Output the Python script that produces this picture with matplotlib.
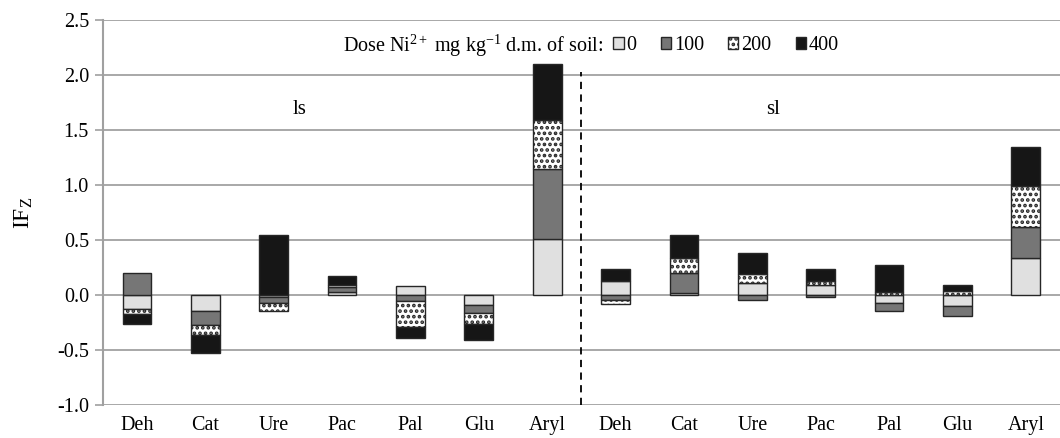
import numpy as np
import matplotlib
matplotlib.use('Agg')
import matplotlib.pyplot as plt
from matplotlib.patches import Patch

plt.rcParams['font.family'] = ['Liberation Serif', 'DejaVu Serif']
plt.rcParams['mathtext.fontset'] = 'custom'
plt.rcParams['mathtext.rm'] = 'Liberation Serif'
plt.rcParams['mathtext.it'] = 'Liberation Serif:italic'
plt.rcParams['hatch.linewidth'] = 1.8

# enzymes, first for ls soil then for sl soil
enzymes = ['Deh', 'Cat', 'Ure', 'Pac', 'Pal', 'Glu', 'Aryl',
           'Deh', 'Cat', 'Ure', 'Pac', 'Pal', 'Glu', 'Aryl']

# IF_Z per nickel dose (mg kg-1)
dose0 = [-0.13, -0.14, -0.02, 0.03, 0.08, -0.09, 0.51,
         0.13, 0.02, 0.11, 0.09, -0.07, -0.10, 0.34]
dose100 = [0.20, -0.13, -0.05, 0.04, -0.05, -0.07, 0.64,
           -0.04, 0.18, -0.04, -0.02, -0.07, -0.09, 0.28]
dose200 = [-0.04, -0.09, -0.07, 0.02, -0.24, -0.10, 0.44,
           -0.04, 0.14, 0.08, 0.04, 0.03, 0.04, 0.37]
dose400 = [-0.09, -0.17, 0.55, 0.08, -0.10, -0.15, 0.51,
           0.11, 0.21, 0.19, 0.11, 0.24, 0.05, 0.36]

doses = ['0', '100', '200', '400']
series = [dose0, dose100, dose200, dose400]
fills = ['#e0e0e0', '#767676', 'white', '#161616']
hatches = [None, None, '...', None]

fig = plt.figure(figsize=(10.6, 4.38), dpi=100)
ax = fig.add_axes([0.097, 0.075, 0.903, 0.879])

x = np.arange(len(enzymes))
pos_base = np.zeros(len(enzymes))
neg_base = np.zeros(len(enzymes))
for vals, fc, h in zip(series, fills, hatches):
    vals = np.array(vals)
    base = np.where(vals >= 0, pos_base, neg_base)
    ax.bar(x, vals, width=0.42, bottom=base, color=fc, hatch=h,
           edgecolor='#262626', linewidth=1.0, zorder=3)
    pos_base += np.clip(vals, 0, None)
    neg_base += np.clip(vals, None, 0)

# divider between the two soils
ax.plot([6.5, 6.5], [-1.0, 2.03], color='black', linestyle=(0, (4, 3)),
        linewidth=1.3, zorder=2)

ax.set_xlim(-0.5, 13.5)
ax.set_ylim(-1.0, 2.5)
ax.set_yticks(np.arange(-1.0, 2.51, 0.5))
ax.set_yticklabels(['%.1f' % v for v in np.arange(-1.0, 2.51, 0.5)])
ax.set_xticks(x)
ax.set_xticklabels(enzymes)
ax.tick_params(axis='x', length=0, labelsize=14.5, pad=8)
ax.tick_params(axis='y', length=6, width=1.2, color='#a0a0a0',
               labelsize=14.5, pad=4)
ax.yaxis.grid(True, color='#a8a8a8', linewidth=1.4, zorder=0)
ax.set_axisbelow(True)
for s in ['top', 'right', 'bottom']:
    ax.spines[s].set_visible(False)
ax.spines['left'].set_color('#a0a0a0')
ax.spines['left'].set_linewidth(1.5)

ax.set_ylabel('IF$_{\\mathrm{Z}}$', fontsize=17, labelpad=16)

ax.text(2.38, 1.69, 'ls', fontsize=15, ha='center', va='center')
ax.text(9.31, 1.69, 'sl', fontsize=15, ha='center', va='center')

ax.text(6.83, 2.27, 'Dose Ni$^{2+}$ mg kg$^{-1}$ d.m. of soil:',
        fontsize=14.5, ha='right', va='center')
handles = [Patch(facecolor=fc, hatch=h, edgecolor='#262626', linewidth=1.0)
           for fc, h in zip(fills, hatches)]
ax.legend(handles, doses, loc='center left', bbox_to_anchor=(0.523, 0.934),
          ncol=4, frameon=False, fontsize=14.5, handlelength=0.5,
          handleheight=0.5, handletextpad=0.15, columnspacing=1.2,
          borderpad=0)

fig.savefig('out.png', dpi=100)
